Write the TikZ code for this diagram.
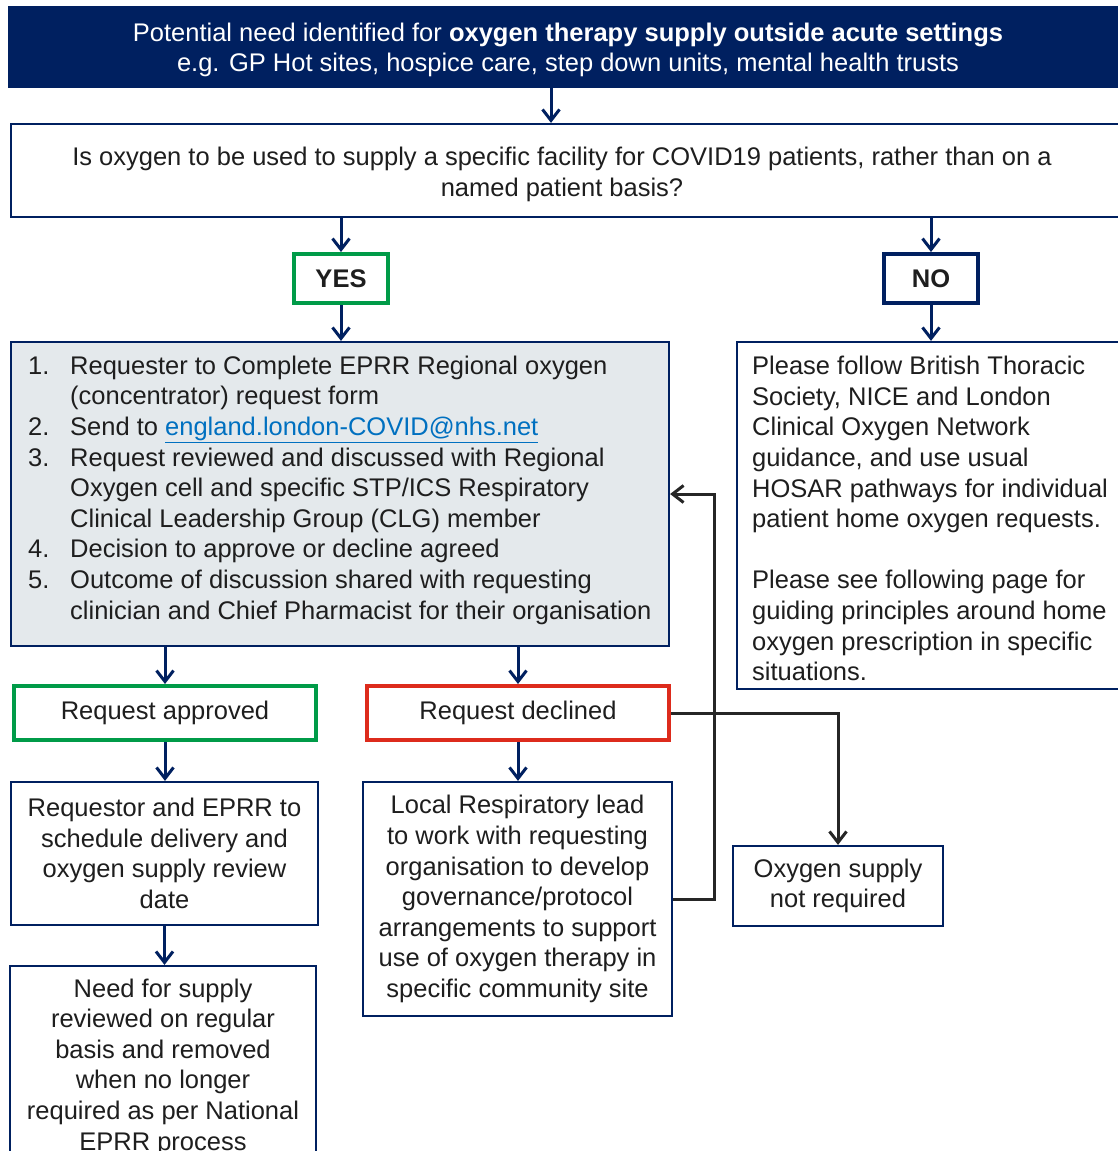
\documentclass[tikz,border=0pt]{standalone}
\usepackage{fontspec}
\setmainfont{Liberation Sans}
\usetikzlibrary{arrows.meta}
\definecolor{navy}{RGB}{0,32,96}
\definecolor{okgreen}{RGB}{0,155,72}
\definecolor{nored}{RGB}{221,43,28}
\definecolor{txtgray}{RGB}{30,30,30}
\definecolor{listfill}{RGB}{228,233,236}
\definecolor{linkblue}{RGB}{0,112,192}
\definecolor{linegray}{RGB}{38,38,38}
\begin{document}
\begin{tikzpicture}[x=1pt,y=-1pt,
 txt/.style={font=\fontsize{25.5}{30.6}\selectfont, text=txtgray, inner sep=0pt},
 plainbox/.style={draw=navy, line width=2.2pt, fill=white, txt, align=center},
 thickbox/.style={line width=4pt, fill=white, txt, align=center},
 flow/.style={draw=navy, line width=3pt, -{Straight Barb[length=11pt,width=17pt]}},
 back/.style={draw=linegray, line width=3pt, -{Straight Barb[length=11pt,width=17pt]}},
]
\useasboundingbox (0,0) rectangle (1118,1151);
\fill[white] (0,0) rectangle (1118,1151);

% top banner
\node[fill=navy, inner sep=0pt, minimum width=1122, minimum height=82] (top) at (569,47) {};
\node[txt, text=white, align=center] (toptext) at (568,50) {Potential need identified for \textbf{oxygen therapy supply outside acute settings}\\ e.g. GP Hot sites, hospice care, step down units, mental health trusts};

% question
\node[plainbox, inner sep=0pt, minimum width=1120, minimum height=93] (q) at (571,170.5) {};
\node[txt, align=center] (qtext) at (562,174.5) {Is oxygen to be used to supply a specific facility for COVID19 patients, rather than on a\\ named patient basis?};

% yes / no
\node[thickbox, draw=okgreen, minimum width=94, minimum height=49] (yes) at (341,278.5) {\textbf{YES}};
\node[thickbox, draw=navy, minimum width=94, minimum height=49] (no) at (931,278.5) {\textbf{NO}};

% list box
\node[plainbox, fill=listfill, minimum width=658, minimum height=304] (list) at (340,494) {};
\node[txt, align=left, anchor=west] (listtext) at (28,490) {\makebox[42pt][l]{1.}Requester to Complete EPRR Regional oxygen\\
\hspace*{42pt}(concentrator) request form\\
\makebox[42pt][l]{2.}Send to \textcolor{linkblue}{\underline{england.london-COVID@nhs.net}}\\
\makebox[42pt][l]{3.}Request reviewed and discussed with Regional\\
\hspace*{42pt}Oxygen cell and specific STP/ICS Respiratory\\
\hspace*{42pt}Clinical Leadership Group (CLG) member\\
\makebox[42pt][l]{4.}Decision to approve or decline agreed\\
\makebox[42pt][l]{5.}Outcome of discussion shared with requesting\\
\hspace*{42pt}clinician and Chief Pharmacist for their organisation};

% NO box
\node[plainbox, inner sep=0pt, minimum width=392, minimum height=347] (nobox) at (933,515.5) {};
\node[txt, align=left, anchor=west] (notext) at (752,518.5) {Please follow British Thoracic\\
Society, NICE and London\\
Clinical Oxygen Network\\
guidance, and use usual\\
HOSAR pathways for individual\\
patient home oxygen requests.\\[30.6pt]
Please see following page for\\
guiding principles around home\\
oxygen prescription in specific\\
situations.};

% outcome boxes
\node[thickbox, draw=okgreen, minimum width=302, minimum height=54] (appr) at (165,713) {Request approved};
\node[thickbox, draw=nored, minimum width=302, minimum height=54] (decl) at (518,713) {Request declined};

\node[plainbox, minimum width=307, minimum height=143] (reqr) at (164.5,853.5) {Requestor and EPRR to\\ schedule delivery and\\ oxygen supply review\\ date};

\node[plainbox, inner sep=0pt, minimum width=306, minimum height=204] (need) at (163,1068) {};
\node[txt, align=center] (needtext) at (163,1067) {Need for supply\\ reviewed on regular\\ basis and removed\\ when no longer\\ required as per National\\ EPRR process};

\node[plainbox, minimum width=309, minimum height=234] (local) at (517.5,899) {Local Respiratory lead\\ to work with requesting\\ organisation to develop\\ governance/protocol\\ arrangements to support\\ use of oxygen therapy in\\ specific community site};

\node[plainbox, minimum width=210, minimum height=80] (oxy) at (838,886) {Oxygen supply\\ not required};

% connectors
\coordinate (c0) at (551,0);
\draw[flow] (top.south -| c0) -- (q.north -| c0);
\draw[flow] (q.south -| yes) -- (yes.north);
\draw[flow] (q.south -| no) -- (no.north);
\draw[flow] (yes.south) -- (list.north -| yes);
\draw[flow] (no.south) -- (nobox.north -| no);
\draw[flow] (list.south -| appr) -- (appr.north);
\draw[flow] (list.south -| decl) -- (decl.north);
\draw[flow] (appr.south) -- (reqr.north -| appr);
\draw[flow] (reqr.south) -- (need.north -| reqr);
\draw[flow] (decl.south) -- (local.north -| decl);
\coordinate (fb) at (714,0);
\draw[back] (local.east) -- (local.east -| fb) -- (fb |- list.east) -- (list.east);
\draw[back] (decl.east) -| (oxy.north);
\end{tikzpicture}
\end{document}
